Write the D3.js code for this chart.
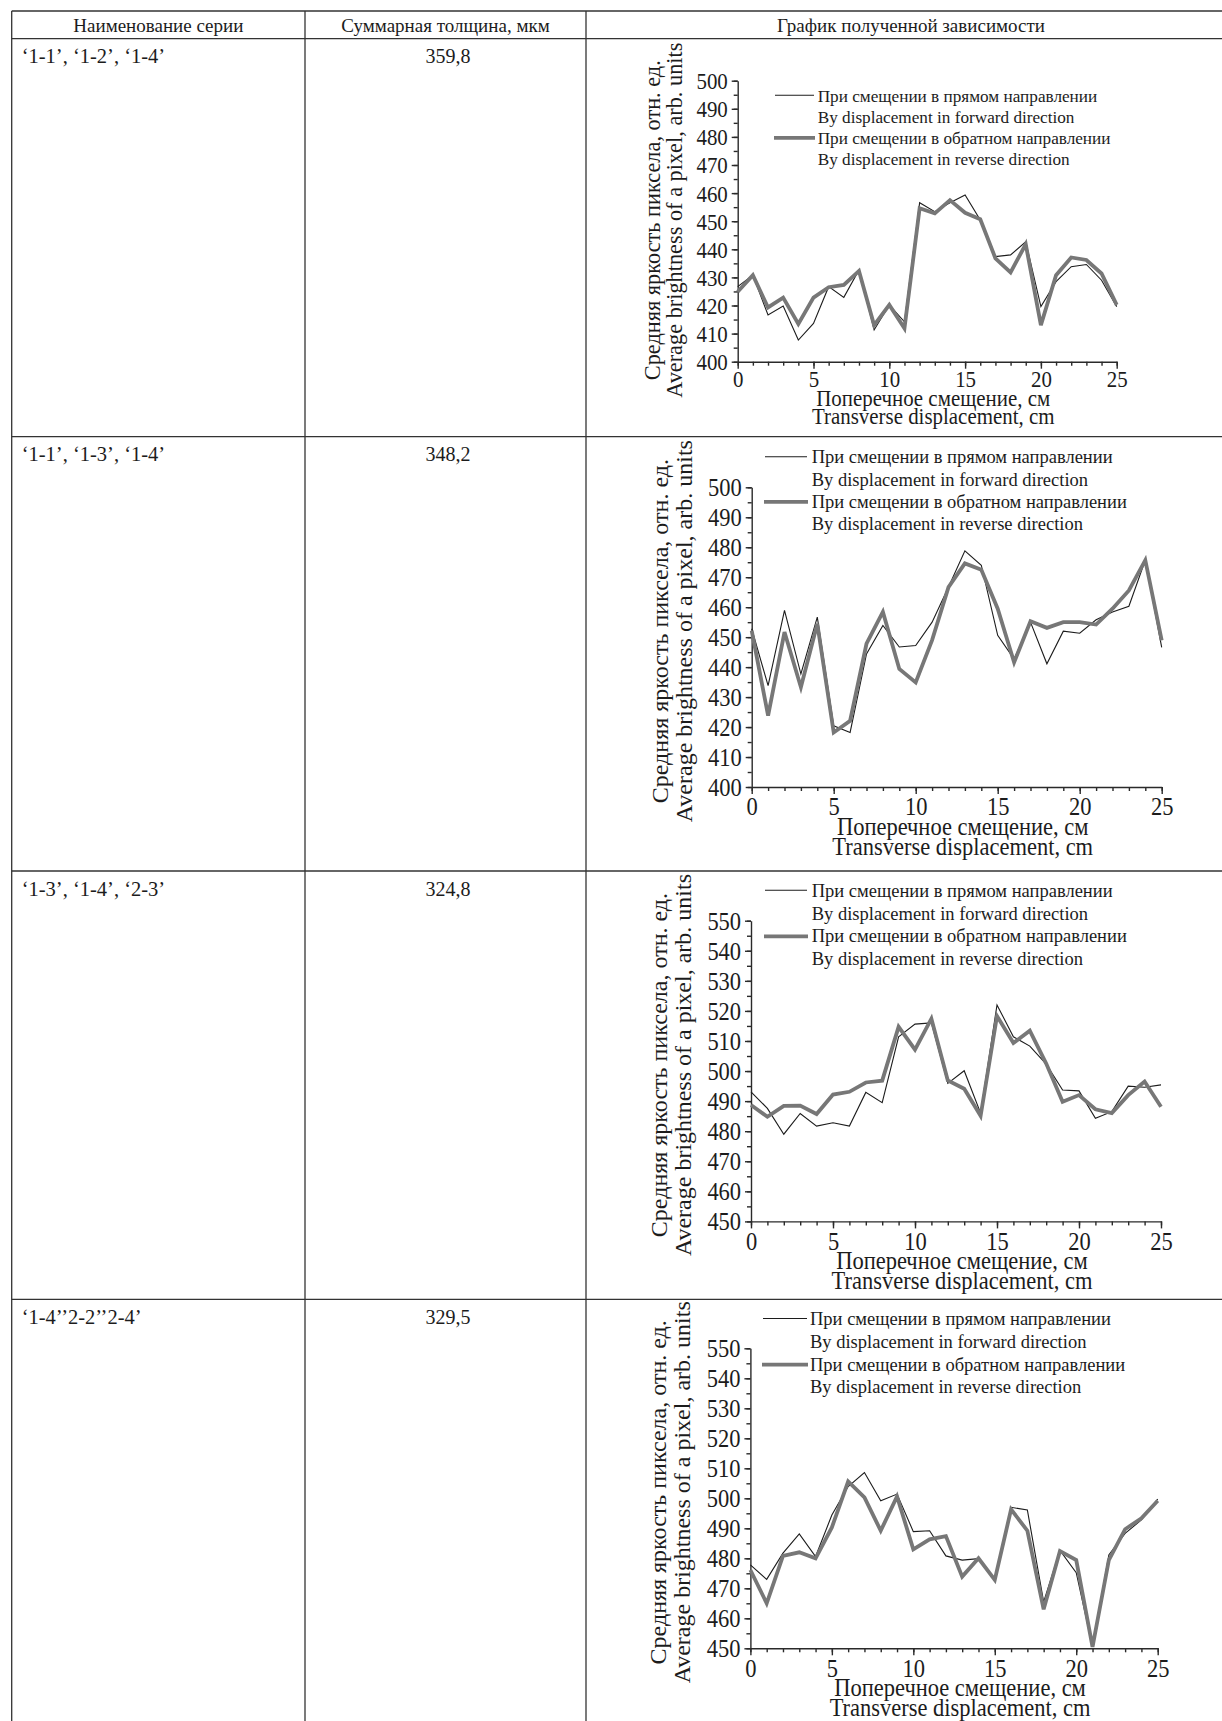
<!DOCTYPE html>
<html>
<head>
<meta charset="utf-8">
<script src="https://cdn.jsdelivr.net/npm/d3@7"></script>
<style>
  body { margin: 0; background: #fff; }
</style>
</head>
<body>
<div id="chart"></div>
<script>
// table content
const headers = ["Наименование серии", "Суммарная толщина, мкм", "График полученной зависимости"];
const seriesNames = ["‘1-1’, ‘1-2’, ‘1-4’", "‘1-1’, ‘1-3’, ‘1-4’", "‘1-3’, ‘1-4’, ‘2-3’", "‘1-4’’2-2’’2-4’"];
const thickness = ["359,8", "348,2", "324,8", "329,5"];

// chart content
const displacement = [0, 1, 2, 3, 4, 5, 6, 7, 8, 9, 10, 11, 12, 13, 14, 15, 16, 17, 18, 19, 20, 21, 22, 23, 24, 25];
const forward1 = [426.7, 430.8, 416.6, 419.8, 407.7, 413.6, 426.7, 422.9, 432.6, 411.3, 420.2, 414.2, 456.6, 453.4, 456.6, 459.3, 450.4, 437.4, 438, 442.7, 419.6, 428.5, 433.8, 434.6, 429, 419.6];
const reverse1 = [424.9, 430.8, 419.3, 422.8, 413.4, 422.8, 426.5, 427.3, 432.3, 413, 420.2, 411.9, 454.6, 452.8, 457.5, 453, 450.7, 436.8, 431.8, 441.8, 413, 430.8, 437.1, 436.2, 431.4, 420.2];
const forward2 = [452.8, 433.8, 458.9, 437.7, 456.7, 420.4, 418.2, 444.4, 453.9, 446.7, 447.2, 455, 466.7, 478.8, 474, 450.6, 442.7, 455, 441.1, 452, 451.3, 455.8, 458.4, 460.3, 475.7, 446.6];
const reverse2 = [452.2, 423.8, 451.7, 433.3, 454.5, 418.2, 422.1, 447.8, 458.4, 439.4, 434.9, 449, 466.7, 474.6, 472.5, 459.5, 441.6, 455.3, 453.1, 455, 455, 454.2, 459.5, 465.6, 475.7, 448.9];
const forward3 = [493.1, 487.6, 479, 485.9, 481.7, 482.8, 481.7, 492.9, 489.5, 511.4, 515.6, 516, 495.9, 500.1, 486, 522, 511.4, 508.3, 502.3, 493.7, 493.4, 484.3, 486.5, 495, 494.6, 495.4];
const reverse3 = [488.7, 484.8, 488.4, 488.5, 485.7, 492.2, 493.1, 496.2, 496.8, 514.7, 507.1, 517.4, 496.9, 494.1, 485.1, 518.3, 509.3, 513.4, 502.5, 489.8, 492, 487.3, 486, 492, 496.5, 488.1];
const forward4 = [477.8, 473, 481.7, 488.1, 480.6, 494.4, 503.9, 508.6, 499.2, 501.4, 488.9, 489.2, 480.8, 479.4, 479.9, 473, 497, 496.1, 465.5, 482.6, 475.2, 450.5, 481.1, 488.3, 492.8, 499.7];
const reverse4 = [476.1, 465, 480.8, 482, 480, 490.3, 505.6, 500.3, 489.2, 500.6, 483, 486.3, 487.4, 473.9, 480, 472.8, 496.3, 489.2, 463, 482.4, 479.4, 450.5, 479.4, 489.7, 493.3, 499.2];
const yDomains = [[400, 500], [400, 500], [450, 550], [450, 550]];
const xTicks = [0, 5, 10, 15, 20, 25];
const legendLabels = ["При смещении в прямом направлении", "By displacement in forward direction",
                      "При смещении в обратном направлении", "By displacement in reverse direction"];
const yTitle = ["Средняя яркость пиксела, отн. ед.", "Average brightness of a pixel, arb. units"];
const xTitle = ["Поперечное смещение, см", "Transverse displacement, cm"];

const forwardSeries = [forward1, forward2, forward3, forward4];
const reverseSeries = [reverse1, reverse2, reverse3, reverse4];

// page layout
const W = 1222, H = 1721;
const tableLeft = 11.7, tableTop = 11, headerBottom = 38.7;
const colX = [305, 586];
const rowTops = [38.7, 436.7, 871, 1299.3];

// where each plot sits in its cell (k = shrink of the first figure)
const panels = [
    {x0: 737.7, x1: 1116.7, yTop: 80.7, yBot: 361.7, k: 0.93, legX: 817.7, legY: 101.7, legStep: 21.1, sample: [775, 814]},
    {x0: 751.7, x1: 1161.7, yTop: 487.3, yBot: 787, k: 1, legX: 811.7, legY: 463.3, legStep: 22.3, sample: [765, 807]},
    {x0: 751, x1: 1161, yTop: 920.7, yBot: 1221.4, k: 1, legX: 811.7, legY: 896.7, legStep: 22.8, sample: [765, 807]},
    {x0: 750.4, x1: 1157.7, yTop: 1348.3, yBot: 1648.3, k: 1, legX: 810, legY: 1325, legStep: 22.8, sample: [763, 807]}
];

const ink = "#1c1c1c";
const grayLine = "#777777";
const narrow = "scale(0.9,1)";   // the printed digits are a bit condensed

const svg = d3.select("#chart").append("svg")
    .attr("width", W)
    .attr("height", H)
    .style("font-family", "'Liberation Serif', 'Times New Roman', serif")
    .attr("fill", ink);

drawTable();
panels.forEach((p, i) => drawPanel(p, i));

function drawTable() {
    const g = svg.append("g").attr("stroke", "#333").attr("stroke-width", 1.3);
    // horizontal rules
    [tableTop, headerBottom].concat(rowTops.slice(1)).forEach(y => {
        g.append("line").attr("x1", tableLeft).attr("x2", W).attr("y1", y).attr("y2", y);
    });
    // vertical rules
    [tableLeft].concat(colX).forEach(x => {
        g.append("line").attr("x1", x).attr("x2", x).attr("y1", tableTop).attr("y2", H);
    });

    const headCenters = [(tableLeft + colX[0]) / 2, (colX[0] + colX[1]) / 2, 911];
    svg.append("g")
        .attr("font-size", 19)
        .attr("text-anchor", "middle")
      .selectAll("text")
      .data(headers)
      .join("text")
        .attr("x", (d, i) => headCenters[i])
        .attr("y", 32.3)
        .text(d => d);

    svg.append("g")
        .attr("font-size", 20.5)
      .selectAll("text")
      .data(seriesNames)
      .join("text")
        .attr("x", 21.7)
        .attr("y", (d, i) => rowTops[i] + 24.5)
        .text(d => d);

    svg.append("g")
        .attr("font-size", 20)
        .attr("text-anchor", "middle")
      .selectAll("text")
      .data(thickness)
      .join("text")
        .attr("x", 448)
        .attr("y", (d, i) => rowTops[i] + 24.5)
        .text(d => d);
}

function drawPanel(p, idx) {
    const k = p.k;
    const x = d3.scaleLinear().domain([0, 25]).range([p.x0, p.x1]);
    const y = d3.scaleLinear().domain(yDomains[idx]).range([p.yBot, p.yTop]);
    const g = svg.append("g");

    // minor ticks
    g.append("g")
        .attr("transform", `translate(0,${p.yBot})`)
        .call(d3.axisBottom(x).tickValues(displacement).tickSize(4).tickFormat("").tickSizeOuter(0))
        .call(a => a.select(".domain").remove());
    const yMinor = d3.range(yDomains[idx][0], yDomains[idx][1] + 1, 5);
    g.append("g")
        .attr("transform", `translate(${p.x0},0)`)
        .call(d3.axisLeft(y).tickValues(yMinor).tickSize(4).tickFormat("").tickSizeOuter(0))
        .call(a => a.select(".domain").remove());

    // major ticks with labels
    const xAxis = g.append("g")
        .attr("transform", `translate(0,${p.yBot})`)
        .call(d3.axisBottom(x).tickValues(xTicks).tickSize(7).tickPadding(2).tickSizeOuter(0));
    xAxis.selectAll("text")
        .attr("font-size", 25 * k)
        .attr("dy", null)
        .attr("y", idx === 0 ? 25.5 : 28.5)
        .attr("transform", narrow);

    const yAxis = g.append("g")
        .attr("transform", `translate(${p.x0},0)`)
        .call(d3.axisLeft(y).ticks(10).tickSize(6).tickPadding(4).tickSizeOuter(0));
    yAxis.selectAll("text")
        .attr("font-size", 25 * k)
        .attr("dy", "0.34em")
        .attr("x", -11)
        .attr("transform", narrow);

    [xAxis, yAxis].forEach(a => {
        a.attr("font-family", null).attr("font-size", null);
        a.selectAll("text").attr("fill", ink);
    });
    g.selectAll("line, path").attr("stroke", "#2a2a2a").attr("stroke-width", 1.4);

    // curves: thin forward first, thick reverse on top
    const line = d3.line()
        .x((d, i) => x(displacement[i]))
        .y(d => y(d));
    g.append("path")
        .datum(forwardSeries[idx])
        .attr("fill", "none")
        .attr("stroke", ink)
        .attr("stroke-width", 1.1)
        .attr("d", line);
    g.append("path")
        .datum(reverseSeries[idx])
        .attr("fill", "none")
        .attr("stroke", grayLine)
        .attr("stroke-width", 3.8)
        .attr("d", line);

    // legend
    const leg = g.append("g").attr("font-size", 18.5 * k);
    leg.selectAll("text")
      .data(legendLabels)
      .join("text")
        .attr("x", p.legX)
        .attr("y", (d, i) => p.legY + i * p.legStep)
        .text(d => d);
    leg.append("line")
        .attr("x1", p.sample[0]).attr("x2", p.sample[1])
        .attr("y1", p.legY - 6.5).attr("y2", p.legY - 6.5)
        .attr("stroke", ink).attr("stroke-width", 1.1);
    leg.append("line")
        .attr("x1", p.sample[0] - 1).attr("x2", p.sample[1] + 1)
        .attr("y1", p.legY + 2 * p.legStep - 6).attr("y2", p.legY + 2 * p.legStep - 6)
        .attr("stroke", grayLine).attr("stroke-width", 3.8);

    // axis titles
    const midX = (p.x0 + p.x1) / 2 + 6;
    g.append("g")
        .attr("font-size", 25 * k)
        .attr("text-anchor", "middle")
      .selectAll("text")
      .data(xTitle)
      .join("text")
        .attr("transform", (d, i) => `translate(${midX},${p.yBot + (47.5 + i * 20) * k}) ${narrow}`)
        .text(d => d);

    const midY = (p.yTop + p.yBot) / 2 - (idx === 0 ? 1 : 6);
    const yOff = idx === 0 ? [85, 63] : [92, 68];
    g.append("g")
        .attr("font-size", 24 * k)
        .attr("text-anchor", "middle")
      .selectAll("text")
      .data(yTitle)
      .join("text")
        .attr("transform", (d, i) => `translate(${p.x0 - yOff[i] + 8 * k},${midY}) rotate(-90)`)
        .text(d => d);
}
</script>
</body>
</html>
